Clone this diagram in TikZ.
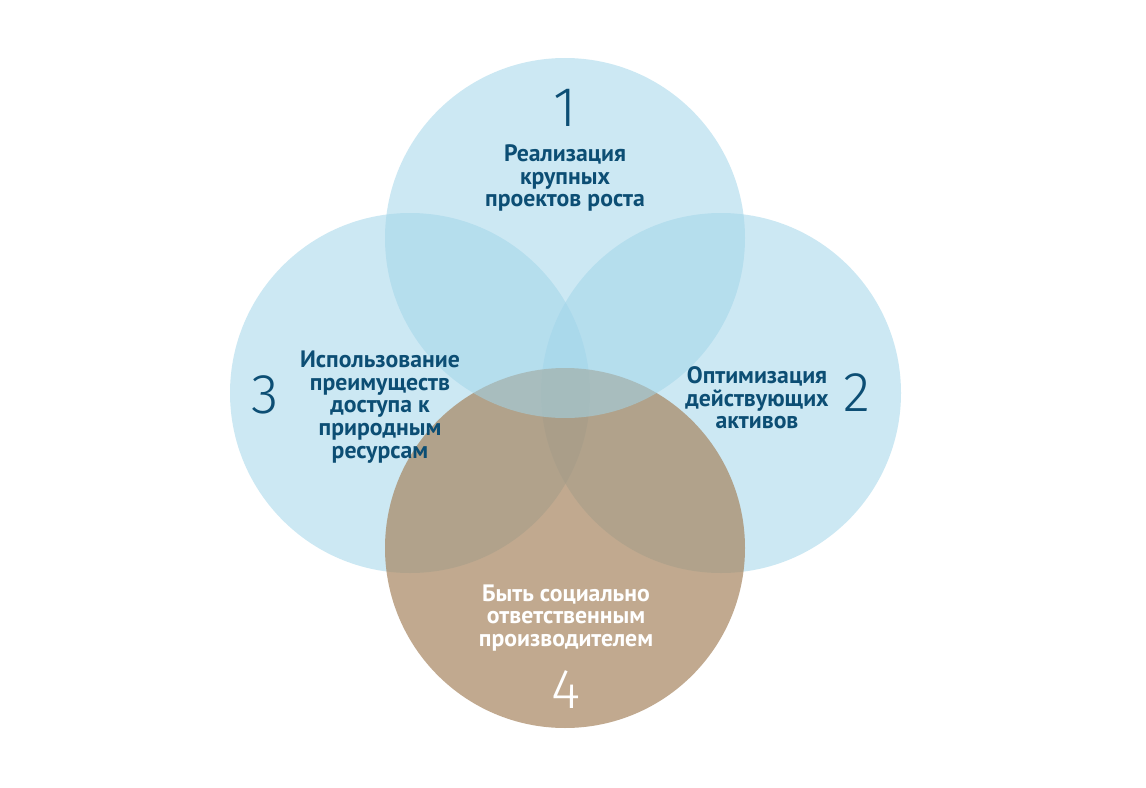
\documentclass[tikz,border=0pt]{standalone}
\usepackage{fontspec}
\setmainfont{PT Sans}
\newfontfamily\numfont{Fira Sans Light}

\definecolor{krugblue}{RGB}{162,213,233}
\definecolor{krugbrown}{RGB}{165,131,93}
\definecolor{tekst}{RGB}{12,78,116}

\begin{document}
\begin{tikzpicture}[x=0.75pt, y=-0.75pt,
  krug/.style={fill=krugblue, fill opacity=0.55},
  krugb/.style={fill=krugbrown, fill opacity=0.69},
  cel/.style={font=\bfseries\fontsize{17.8}{17}\selectfont, text=tekst, align=center},
  nomer/.style={font=\numfont\fontsize{42}{42}\selectfont, text=tekst}]

\useasboundingbox (0,0) rectangle (1146,788);

% круги: левый, правый, нижний, верхний
\fill[krug] (410,393) circle [radius=180];
\fill[krug] (721,393) circle [radius=180];
\fill[krugb] (565,548) circle [radius=180];
\fill[krug] (565,238) circle [radius=180];

% 1 -- верх
\node[nomer] (n1) at (565,108) {1};
\node[cel] (c1) at (565,178) {Реализация\\крупных\\проектов роста};

% 2 -- справа
\node[nomer] (n2) at (857,393) {2};
\node[cel] (c2) at (757,398) {Оптимизация\\действующих\\активов};

% 3 -- слева
\node[nomer] (n3) at (265,395) {3};
\node[cel] (c3) at (380,407) {Использование\\преимуществ\\доступа к\\природным\\ресурсам};

% 4 -- низ
\node[cel, text=white] (c4) at (566,618) {Быть социально\\ответственным\\производителем};
\node[nomer, text=white] (n4) at (566,690) {4};

\end{tikzpicture}
\end{document}
